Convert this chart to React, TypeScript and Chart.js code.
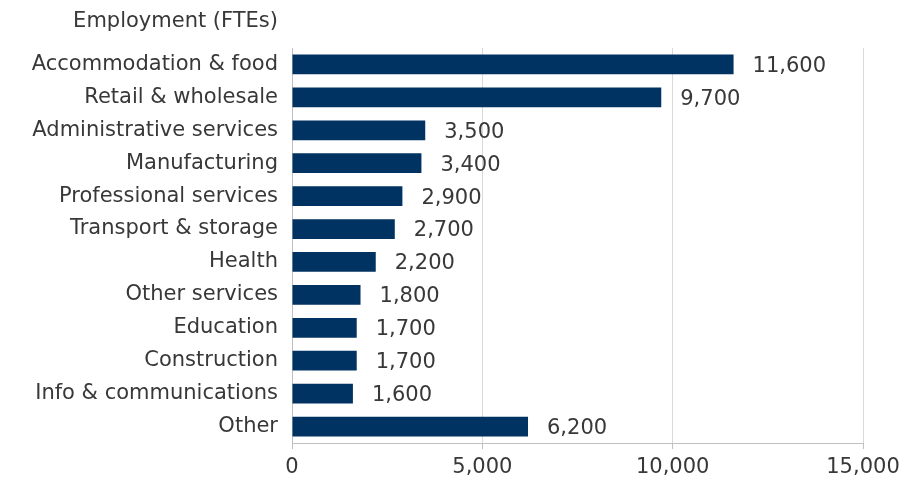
import React, { useEffect, useRef } from "react";
import { Chart, registerables } from "chart.js";

Chart.register(...registerables);

const categories = [
  "Accommodation & food",
  "Retail & wholesale",
  "Administrative services",
  "Manufacturing",
  "Professional services",
  "Transport & storage",
  "Health",
  "Other services",
  "Education",
  "Construction",
  "Info & communications",
  "Other",
];
const employment = [11600, 9700, 3500, 3400, 2900, 2700, 2200, 1800, 1700, 1700, 1600, 6200];
const axisTitle = "Employment (FTEs)";
const xMin = 0;
const xMax = 15000;
const xStep = 5000;

const FONT = "'DejaVu Sans', sans-serif";
const TEXT = "#383838";
const SIZE = 21;

const labelPlugin = {
  id: "barLabels",
  afterDatasetsDraw(chart: any) {
    const ctx = chart.ctx;
    const meta = chart.getDatasetMeta(0);
    ctx.save();
    ctx.font = `${SIZE}px ${FONT}`;
    ctx.fillStyle = TEXT;
    ctx.textAlign = "left";
    ctx.textBaseline = "middle";
    meta.data.forEach((bar: any, i: number) => {
      ctx.fillText(employment[i].toLocaleString("en-US"), bar.x + 19, bar.y + 2);
    });
    ctx.restore();
  },
};

const titlePlugin = {
  id: "topTitle",
  afterDraw(chart: any) {
    const ctx = chart.ctx;
    ctx.save();
    ctx.font = `${SIZE}px ${FONT}`;
    ctx.fillStyle = TEXT;
    ctx.textAlign = "right";
    ctx.textBaseline = "middle";
    ctx.fillText(axisTitle, chart.chartArea.left - 14, 22);
    ctx.restore();
  },
};

export default function App() {
  const ref = useRef<HTMLCanvasElement>(null);
  useEffect(() => {
    if (!ref.current) return;
    const chart = new Chart(ref.current, {
      type: "bar",
      data: {
        labels: categories,
        datasets: [
          {
            data: employment,
            backgroundColor: "#003262",
            barPercentage: 0.6,
            categoryPercentage: 1,
          },
        ],
      },
      options: {
        indexAxis: "y",
        animation: false,
        responsive: false,
        maintainAspectRatio: false,
        layout: { padding: { top: 48, right: 40, left: 0, bottom: 0 } },
        plugins: { legend: { display: false }, tooltip: { enabled: false } },
        scales: {
          x: {
            min: xMin,
            max: xMax,
            ticks: {
              stepSize: xStep,
              color: TEXT,
              font: { family: FONT, size: SIZE },
              padding: 6,
              callback: (v: any) => Number(v).toLocaleString("en-US"),
            },
            grid: { color: "#d9d9d9", lineWidth: 1, tickLength: 6, tickColor: "#bfbfbf" },
            border: { display: true, color: "#bfbfbf" },
            afterFit: (s: any) => {
              s.height = 38;
              s.paddingRight = 0;
              s.paddingLeft = 0;
            },
          },
          y: {
            ticks: {
              color: TEXT,
              font: { family: FONT, size: SIZE },
              padding: 14,
            },
            grid: { display: false, drawTicks: false },
            border: { display: true, color: "#bfbfbf" },
            afterFit: (s: any) => {
              s.width = 292;
              s.paddingTop = 0;
              s.paddingBottom = 0;
            },
          },
        },
      },
      plugins: [labelPlugin, titlePlugin],
    });
    return () => chart.destroy();
  }, []);
  return (
    <div style={{ position: "fixed", left: 0, top: 0, width: 903, height: 481, background: "#fff" }}>
      <canvas ref={ref} width={903} height={481} />
    </div>
  );
}
